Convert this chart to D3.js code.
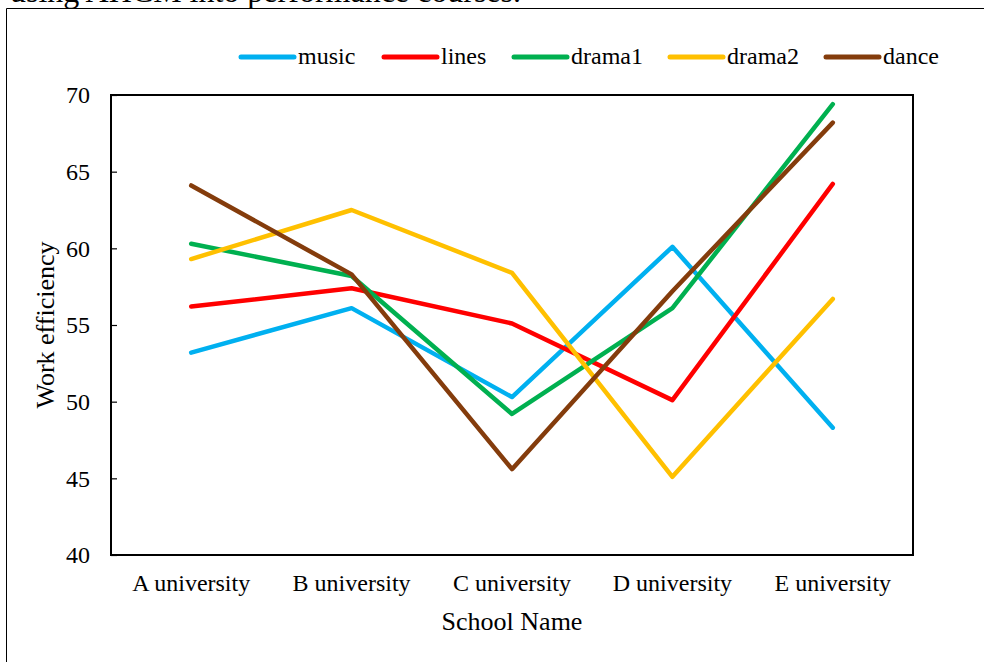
<!DOCTYPE html>
<html>
<head>
<meta charset="utf-8">
<script src="https://cdn.jsdelivr.net/npm/d3@7"></script>
<style>
  html, body { margin: 0; padding: 0; background: #fff; }
  svg { display: block; font-family: "Liberation Serif", "Times New Roman", serif; }
</style>
</head>
<body>
<svg id="chart" width="984" height="662"></svg>
<script>
// Schools on the x axis
const schools = ["A university", "B university", "C university", "D university", "E university"];

// Work efficiency per course type
const music  = [53.2, 56.1, 50.3, 60.1, 48.3];
const lines  = [56.2, 57.4, 55.1, 50.1, 64.2];
const drama1 = [60.3, 58.2, 49.2, 56.1, 69.4];
const drama2 = [59.3, 62.5, 58.4, 45.1, 56.7];
const dance  = [64.1, 58.3, 45.6, 57.2, 68.2];

const seriesNames = ["music", "lines", "drama1", "drama2", "dance"];
const seriesValues = [music, lines, drama1, drama2, dance];
const seriesColors = ["#00B0F0", "#FF0000", "#00B050", "#FFC000", "#843C0C"];

const yTicks = [40, 45, 50, 55, 60, 65, 70];

const serif = "Liberation Serif, Times New Roman, serif";
const svg = d3.select("#chart");

// Caption line running off the top of the page, and the surrounding frame
svg.append("text")
  .attr("x", 521).attr("y", 2)
  .attr("text-anchor", "end")
  .attr("font-size", 32)
  .attr("fill", "#000")
  .text("using AHCM into performance courses.");

svg.append("path")
  .attr("d", "M6.5,662 L6.5,8.5 L984,8.5")
  .attr("fill", "none")
  .attr("stroke", "#000")
  .attr("stroke-width", 1);

const plot = { left: 111, right: 913, top: 95, bottom: 555 };

const x = d3.scaleBand().domain(schools).range([plot.left, plot.right]);
const y = d3.scaleLinear().domain([40, 70]).range([plot.bottom, plot.top]);

// Y axis: labels on the left, short ticks pointing into the plot
const yAxis = svg.append("g")
  .attr("transform", `translate(${plot.left},0)`)
  .call(d3.axisRight(y).tickValues(yTicks).tickSize(6).tickFormat(d3.format("d")));
yAxis.select(".domain").remove();
yAxis.selectAll("line").attr("stroke", "#000").attr("stroke-width", 1.2);
yAxis.selectAll("text")
  .attr("x", -21)
  .attr("text-anchor", "end")
  .attr("font-size", 24)
  .attr("font-family", serif)
  .attr("fill", "#000");

// X axis labels
const xAxis = svg.append("g")
  .attr("transform", `translate(0,${plot.bottom})`)
  .call(d3.axisBottom(x).tickSize(0));
xAxis.select(".domain").remove();
xAxis.selectAll("text")
  .attr("y", 36)
  .attr("dy", "0")
  .attr("font-size", 24)
  .attr("font-family", serif)
  .attr("fill", "#000");

// Plot frame
svg.append("rect")
  .attr("x", plot.left).attr("y", plot.top)
  .attr("width", plot.right - plot.left)
  .attr("height", plot.bottom - plot.top)
  .attr("fill", "none")
  .attr("stroke", "#000")
  .attr("stroke-width", 2);

// Series lines
const line = d3.line()
  .x((d, i) => x(schools[i]) + x.bandwidth() / 2)
  .y(d => y(d));

seriesValues.forEach((vals, k) => {
  svg.append("path")
    .datum(vals)
    .attr("d", line)
    .attr("fill", "none")
    .attr("stroke", seriesColors[k])
    .attr("stroke-width", 4.5)
    .attr("stroke-linecap", "round")
    .attr("stroke-linejoin", "round");
});

// Axis titles
svg.append("text")
  .attr("x", (plot.left + plot.right) / 2).attr("y", 630)
  .attr("text-anchor", "middle")
  .attr("font-size", 26)
  .text("School Name");

svg.append("text")
  .attr("transform", `translate(54,${(plot.top + plot.bottom) / 2}) rotate(-90)`)
  .attr("text-anchor", "middle")
  .attr("font-size", 26)
  .text("Work efficiency");

// Legend
const legendX = [241, 384, 514, 670, 826];
const legend = svg.append("g");
seriesNames.forEach((name, k) => {
  const g = legend.append("g").attr("transform", `translate(${legendX[k]},57)`);
  g.append("line")
    .attr("x1", 0).attr("x2", 53)
    .attr("y1", 0).attr("y2", 0)
    .attr("stroke", seriesColors[k])
    .attr("stroke-width", 5)
    .attr("stroke-linecap", "round");
  g.append("text")
    .attr("x", 57).attr("y", 7)
    .attr("font-size", 24)
    .text(name);
});
</script>
</body>
</html>
